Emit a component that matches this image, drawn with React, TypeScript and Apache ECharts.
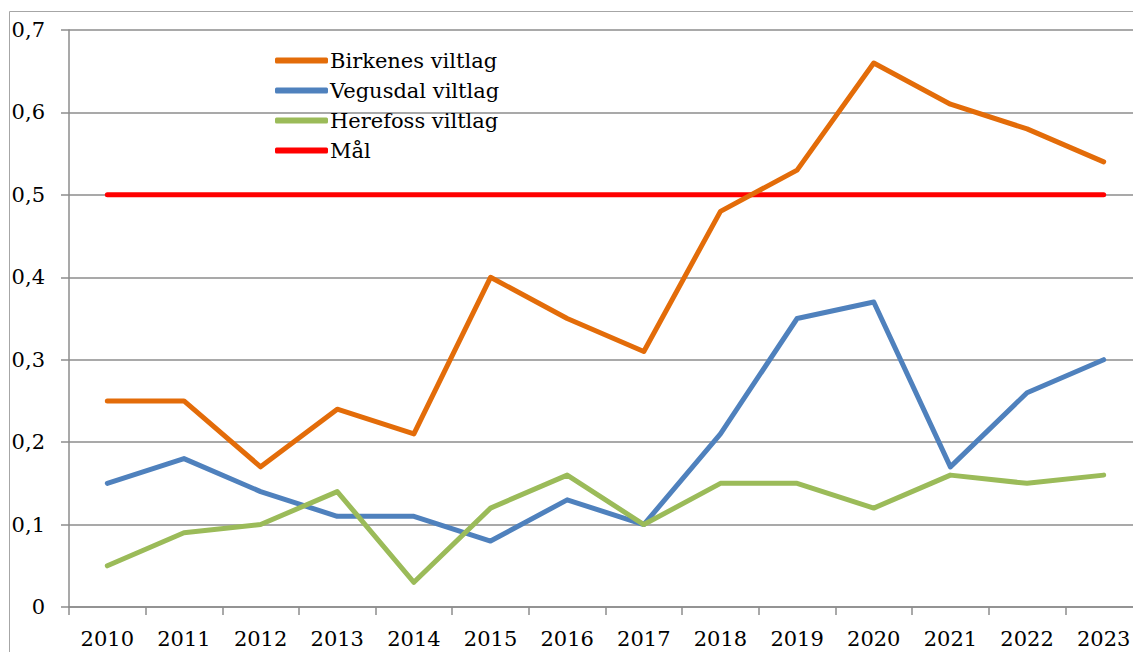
import React, { useEffect, useRef } from "react";
import * as echarts from "echarts";

const years = ["2010", "2011", "2012", "2013", "2014", "2015", "2016", "2017", "2018", "2019", "2020", "2021", "2022", "2023"];
const birkenes = [0.25, 0.25, 0.17, 0.24, 0.21, 0.40, 0.35, 0.31, 0.48, 0.53, 0.66, 0.61, 0.58, 0.54];
const vegusdal = [0.15, 0.18, 0.14, 0.11, 0.11, 0.08, 0.13, 0.10, 0.21, 0.35, 0.37, 0.17, 0.26, 0.30];
const herefoss = [0.05, 0.09, 0.10, 0.14, 0.03, 0.12, 0.16, 0.10, 0.15, 0.15, 0.12, 0.16, 0.15, 0.16];
const maal = [0.5, 0.5, 0.5, 0.5, 0.5, 0.5, 0.5, 0.5, 0.5, 0.5, 0.5, 0.5, 0.5, 0.5];

const FONT = "DejaVu Serif";

export default function App() {
  const ref = useRef<HTMLDivElement>(null);
  useEffect(() => {
    if (!ref.current) return;
    const chart = echarts.init(ref.current, undefined, { renderer: "svg" });
    const mk = (name: string, data: number[], color: string, z: number) => ({
      name,
      type: "line",
      data,
      symbol: "none",
      z,
      lineStyle: { color, width: 5, cap: "round", join: "round" },
      itemStyle: { color },
    });
    chart.setOption({
      animation: false,
      backgroundColor: "#ffffff",
      textStyle: { fontFamily: FONT },
      graphic: [
        {
          type: "rect",
          shape: { x: 9.5, y: 11.5, width: 1200, height: 700 },
          style: { fill: "none", stroke: "#a6a6a6", lineWidth: 1 },
          silent: true,
          z: -10,
        },
      ],
      grid: { left: 69, top: 30, right: 8, bottom: 45, containLabel: false },
      legend: {
        orient: "vertical",
        left: 270,
        top: 45,
        itemWidth: 53,
        itemHeight: 6,
        itemGap: 9,
        icon: "roundRect",
        textStyle: { fontFamily: FONT, fontSize: 21, lineHeight: 21, color: "#000", padding: [0, 0, 0, -3] },
        data: ["Birkenes viltlag", "Vegusdal viltlag", "Herefoss viltlag", "Mål"],
      },
      xAxis: {
        type: "category",
        data: years,
        boundaryGap: true,
        axisLine: { lineStyle: { color: "#8c8c8c", width: 1.5 } },
        axisTick: { show: true, length: 8, lineStyle: { color: "#8c8c8c", width: 1.5 } },
        axisLabel: { fontFamily: FONT, fontSize: 21, color: "#000", margin: 21 },
      },
      yAxis: {
        type: "value",
        min: 0,
        max: 0.7,
        interval: 0.1,
        axisLine: { show: true, lineStyle: { color: "#8c8c8c", width: 1.5 } },
        axisTick: { show: true, length: 8, lineStyle: { color: "#8c8c8c", width: 1.5 } },
        splitLine: { lineStyle: { color: "#8c8c8c", width: 1.5 } },
        axisLabel: {
          fontFamily: FONT,
          fontSize: 21,
          color: "#000",
          margin: 24,
          formatter: (v: number) => (v === 0 ? "0" : v.toFixed(1).replace(".", ",")),
        },
      },
      series: [
        mk("Mål", maal, "#ff0000", 2),
        mk("Vegusdal viltlag", vegusdal, "#4f81bd", 3),
        mk("Herefoss viltlag", herefoss, "#9bbb59", 4),
        mk("Birkenes viltlag", birkenes, "#e36c09", 5),
      ],
    });
    return () => chart.dispose();
  }, []);
  return (
    <div
      ref={ref}
      style={{ position: "fixed", left: 0, top: 0, width: 1150, height: 652, background: "#fff" }}
    />
  );
}
